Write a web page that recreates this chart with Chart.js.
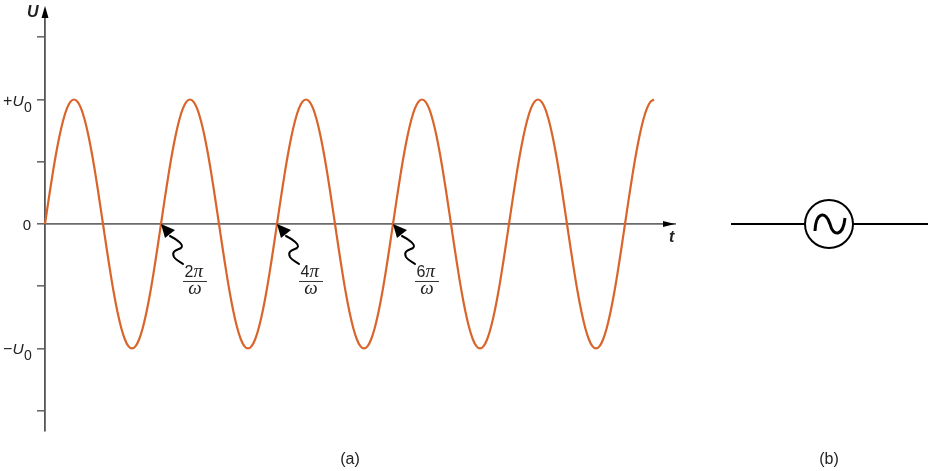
<!DOCTYPE html>
<html>
<head>
<meta charset="utf-8">
<title>U vs t</title>
<script src="https://cdn.jsdelivr.net/npm/chart.js@4"></script>
<style>
html, body { margin: 0; padding: 0; background: #fff; }
canvas { display: block; }
</style>
</head>
<body>
<canvas id="grafico" width="929" height="471"></canvas>
<script>
// t in units of pi/omega, read every 1/32 of a cycle
const tempos = [
  0, 0.0625, 0.125, 0.1875, 0.25, 0.3125, 0.375, 0.4375, 0.5, 0.5625, 0.625, 0.6875, 0.75, 0.8125, 0.875, 0.9375,
  1, 1.0625, 1.125, 1.1875, 1.25, 1.3125, 1.375, 1.4375, 1.5, 1.5625, 1.625, 1.6875, 1.75, 1.8125, 1.875, 1.9375,
  2, 2.0625, 2.125, 2.1875, 2.25, 2.3125, 2.375, 2.4375, 2.5, 2.5625, 2.625, 2.6875, 2.75, 2.8125, 2.875, 2.9375,
  3, 3.0625, 3.125, 3.1875, 3.25, 3.3125, 3.375, 3.4375, 3.5, 3.5625, 3.625, 3.6875, 3.75, 3.8125, 3.875, 3.9375,
  4, 4.0625, 4.125, 4.1875, 4.25, 4.3125, 4.375, 4.4375, 4.5, 4.5625, 4.625, 4.6875, 4.75, 4.8125, 4.875, 4.9375,
  5, 5.0625, 5.125, 5.1875, 5.25, 5.3125, 5.375, 5.4375, 5.5, 5.5625, 5.625, 5.6875, 5.75, 5.8125, 5.875, 5.9375,
  6, 6.0625, 6.125, 6.1875, 6.25, 6.3125, 6.375, 6.4375, 6.5, 6.5625, 6.625, 6.6875, 6.75, 6.8125, 6.875, 6.9375,
  7, 7.0625, 7.125, 7.1875, 7.25, 7.3125, 7.375, 7.4375, 7.5, 7.5625, 7.625, 7.6875, 7.75, 7.8125, 7.875, 7.9375,
  8, 8.0625, 8.125, 8.1875, 8.25, 8.3125, 8.375, 8.4375, 8.5, 8.5625, 8.625, 8.6875, 8.75, 8.8125, 8.875, 8.9375,
  9, 9.0625, 9.125, 9.1875, 9.25, 9.3125, 9.375, 9.4375, 9.5, 9.5625, 9.625, 9.6875, 9.75, 9.8125, 9.875, 9.9375,
  10, 10.0625, 10.125, 10.1875, 10.25, 10.3125, 10.375, 10.4375, 10.5
];
// U in units of U0
const tensao = [
  0, 0.195, 0.383, 0.556, 0.707, 0.831, 0.924, 0.981, 1, 0.981, 0.924, 0.831, 0.707, 0.556, 0.383, 0.195,
  0, -0.195, -0.383, -0.556, -0.707, -0.831, -0.924, -0.981, -1, -0.981, -0.924, -0.831, -0.707, -0.556, -0.383, -0.195,
  0, 0.195, 0.383, 0.556, 0.707, 0.831, 0.924, 0.981, 1, 0.981, 0.924, 0.831, 0.707, 0.556, 0.383, 0.195,
  0, -0.195, -0.383, -0.556, -0.707, -0.831, -0.924, -0.981, -1, -0.981, -0.924, -0.831, -0.707, -0.556, -0.383, -0.195,
  0, 0.195, 0.383, 0.556, 0.707, 0.831, 0.924, 0.981, 1, 0.981, 0.924, 0.831, 0.707, 0.556, 0.383, 0.195,
  0, -0.195, -0.383, -0.556, -0.707, -0.831, -0.924, -0.981, -1, -0.981, -0.924, -0.831, -0.707, -0.556, -0.383, -0.195,
  0, 0.195, 0.383, 0.556, 0.707, 0.831, 0.924, 0.981, 1, 0.981, 0.924, 0.831, 0.707, 0.556, 0.383, 0.195,
  0, -0.195, -0.383, -0.556, -0.707, -0.831, -0.924, -0.981, -1, -0.981, -0.924, -0.831, -0.707, -0.556, -0.383, -0.195,
  0, 0.195, 0.383, 0.556, 0.707, 0.831, 0.924, 0.981, 1, 0.981, 0.924, 0.831, 0.707, 0.556, 0.383, 0.195,
  0, -0.195, -0.383, -0.556, -0.707, -0.831, -0.924, -0.981, -1, -0.981, -0.924, -0.831, -0.707, -0.556, -0.383, -0.195,
  0, 0.195, 0.383, 0.556, 0.707, 0.831, 0.924, 0.981, 1
];
const marcasY = [1.5, 1, 0.5, 0, -0.5, -1, -1.5];
const marcasTexto = ['', '+U', '', '0', '', '\u2212U', ''];
const setasT = [2, 4, 6];
const setasTexto = ['2', '4', '6'];

const SANS = '"Liberation Sans", Arial, sans-serif';
const SERIF = '"Liberation Serif", "DejaVu Serif", serif';

function texto(ctx, s, x, y, fonte, align) {
  ctx.font = fonte;
  ctx.textAlign = align || 'left';
  ctx.textBaseline = 'alphabetic';
  ctx.fillStyle = '#222';
  ctx.fillText(s, x, y);
}

function triangulo(ctx, a, b, c) {
  ctx.fillStyle = '#000';
  ctx.beginPath();
  ctx.moveTo(a[0], a[1]);
  ctx.lineTo(b[0], b[1]);
  ctx.lineTo(c[0], c[1]);
  ctx.closePath();
  ctx.fill();
}

const desenhos = {
  id: 'desenhos',
  afterDraw(chart) {
    const ctx = chart.ctx;
    const sx = chart.scales.x;
    const sy = chart.scales.y;
    const area = chart.chartArea;
    const x0 = area.left;
    const y0 = sy.getPixelForValue(0);
    ctx.save();

    // axis arrows and names
    triangulo(ctx, [x0, 6], [x0 - 3.5, 18], [x0 + 3.5, 18]);
    triangulo(ctx, [area.right, y0], [area.right - 12, y0 - 3], [area.right - 12, y0 + 3]);
    texto(ctx, 'U', 27, 16.5, 'italic bold 16px ' + SANS);
    texto(ctx, 't', area.right - 6, 241.5, 'italic bold 16px ' + SANS);

    // y tick labels with subscript
    marcasY.forEach((v, i) => {
      const s = marcasTexto[i];
      if (!s) return;
      const y = sy.getPixelForValue(v);
      if (s === '0') {
        texto(ctx, '0', 31, y + 6, '15px ' + SANS, 'right');
      } else {
        texto(ctx, s.charAt(0), 3, y + 6, '16px ' + SANS);
        texto(ctx, 'U', 12.5, y + 6, 'italic 15.5px ' + SANS);
        texto(ctx, '0', 24, y + 12, '14px ' + SANS);
      }
    });

    // wavy pointers with the fractions
    setasT.forEach((v, i) => {
      const x = sx.getPixelForValue(v);
      ctx.strokeStyle = '#000';
      ctx.lineWidth = 2;
      ctx.lineCap = 'round';
      ctx.beginPath();
      ctx.moveTo(x + 9, y0 + 12);
      ctx.bezierCurveTo(x + 15, y0 + 15, x + 24, y0 + 21, x + 20, y0 + 24);
      ctx.bezierCurveTo(x + 16, y0 + 26, x + 10, y0 + 27, x + 13, y0 + 33);
      ctx.bezierCurveTo(x + 15, y0 + 36, x + 19, y0 + 38, x + 22, y0 + 40);
      ctx.stroke();
      triangulo(ctx, [x, y0], [x + 4, y0 + 14], [x + 14, y0 + 6]);

      const cx = x + 34;
      texto(ctx, setasTexto[i], cx - 1.5, y0 + 53, '16px ' + SANS, 'right');
      texto(ctx, '\u03c0', cx - 1.5, y0 + 53, 'italic 19px ' + SERIF);
      ctx.fillStyle = '#333';
      ctx.fillRect(cx - 12, y0 + 57, 24, 1);
      texto(ctx, '\u03c9', cx, y0 + 70.5, 'italic 19px ' + SERIF, 'center');
    });

    // source symbol of panel (b)
    const cx = 829, cy = 224;
    ctx.strokeStyle = '#000';
    ctx.lineWidth = 2;
    ctx.lineCap = 'butt';
    ctx.beginPath();
    ctx.moveTo(731, cy);
    ctx.lineTo(cx - 24, cy);
    ctx.moveTo(cx + 24, cy);
    ctx.lineTo(928, cy);
    ctx.stroke();
    ctx.beginPath();
    ctx.arc(cx, cy, 24, 0, Math.PI * 2);
    ctx.stroke();
    ctx.lineWidth = 3;
    ctx.beginPath();
    ctx.moveTo(cx - 14, cy + 7);
    ctx.bezierCurveTo(cx - 13, cy - 13, cx - 3, cy - 13, cx + 1, cy);
    ctx.bezierCurveTo(cx + 4, cy + 13, cx + 14, cy + 13, cx + 16, cy - 6);
    ctx.stroke();

    // panel captions
    texto(ctx, '(a)', 350, 464, '16px ' + SANS, 'center');
    texto(ctx, '(b)', 829, 464, '16px ' + SANS, 'center');
    ctx.restore();
  }
};

new Chart(document.getElementById('grafico'), {
  type: 'line',
  data: {
    datasets: [{
      data: tempos.map((t, i) => ({ x: t, y: tensao[i] })),
      borderColor: '#d9652b',
      borderWidth: 2.2,
      pointRadius: 0,
      tension: 0.4,
      clip: false
    }]
  },
  options: {
    responsive: false,
    animation: false,
    events: [],
    layout: { padding: { left: 0, right: 254, top: 10, bottom: 40 } },
    plugins: { legend: { display: false }, tooltip: { enabled: false } },
    scales: {
      x: {
        type: 'linear',
        min: 0,
        max: 10.862,
        position: { y: 0 },
        afterFit(scale) { scale.height = 0; },
        grid: { display: false },
        border: { display: true, color: '#6a6a6a', width: 1.8 },
        ticks: { display: false }
      },
      y: {
        min: -1.663,
        max: 1.719,
        afterBuildTicks(scale) { scale.ticks = marcasY.map(v => ({ value: v })); },
        afterFit(scale) { scale.width = 45; },
        grid: { drawOnChartArea: false, drawTicks: true, tickLength: 8, color: '#6a6a6a', lineWidth: 1.6 },
        border: { display: true, color: '#555', width: 1.8 },
        ticks: { callback: () => '', padding: 0 }
      }
    }
  },
  plugins: [desenhos]
});
</script>
</body>
</html>
